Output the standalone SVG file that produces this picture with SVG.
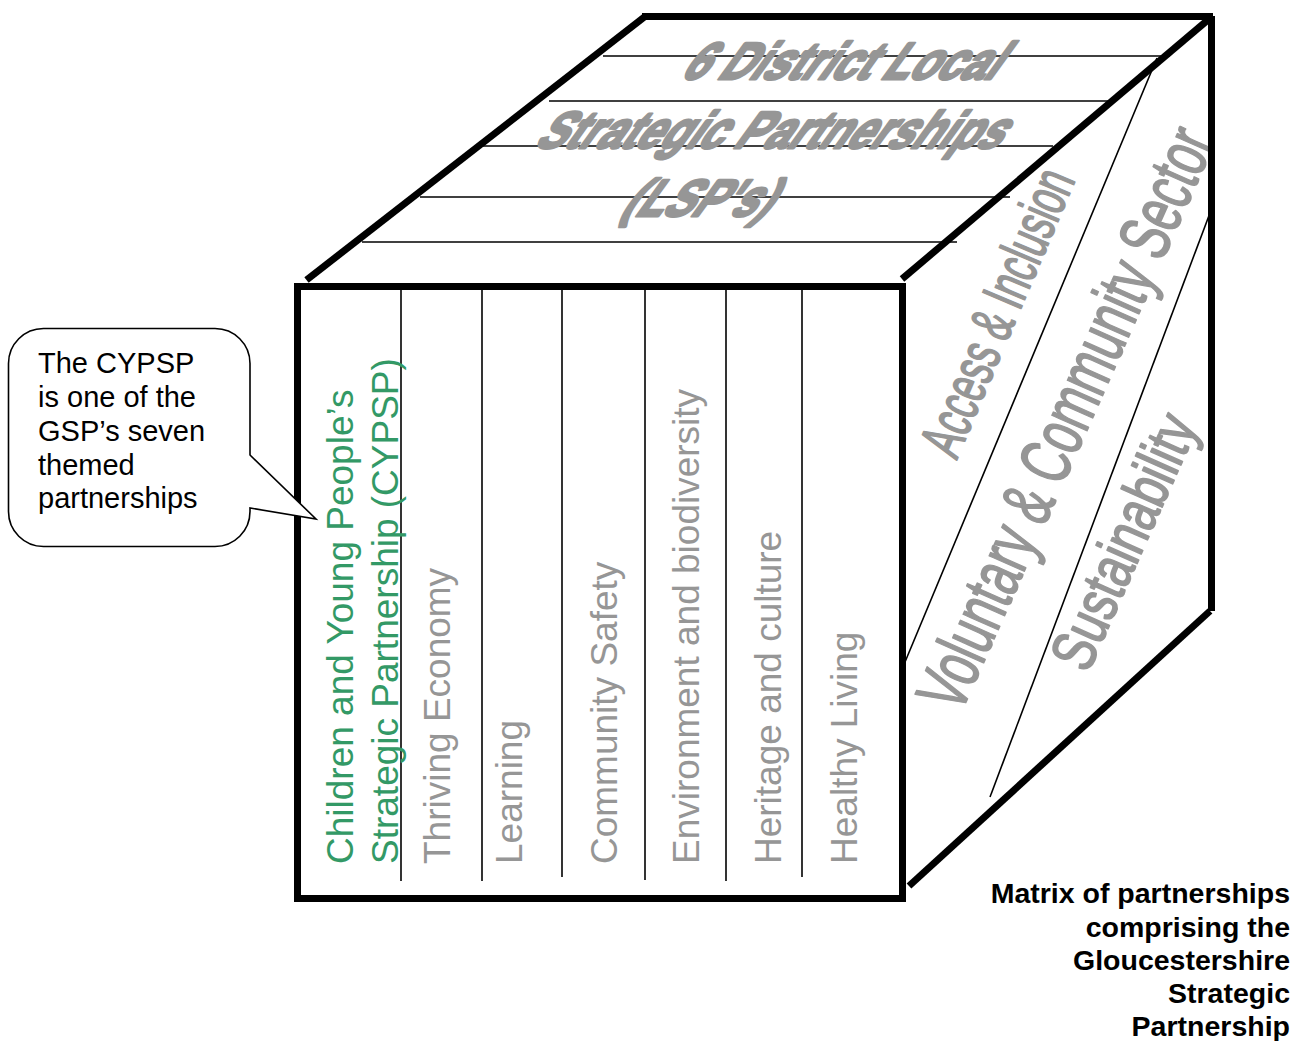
<svg xmlns="http://www.w3.org/2000/svg" width="1304" height="1041" viewBox="0 0 1304 1041">
  <style>
    .thick { stroke: #000; stroke-width: 7; fill: none; stroke-linecap: butt; }
    .thin { stroke: #000; stroke-width: 1.6; fill: none; }
    .col { font-family: "Liberation Sans", Arial, sans-serif; font-size: 37px; fill: #969696; }
    .green { fill: #339966; }
    .wa { font-family: "Liberation Sans", Arial, sans-serif; font-weight: bold; font-size: 52px; fill: #969696; stroke: #969696; stroke-width: 3; stroke-linejoin: round; }
    .side { font-family: "Liberation Sans", Arial, sans-serif; fill: #969696; stroke: #969696; stroke-width: 1.8; stroke-linejoin: round; }
    .callout { font-family: "Liberation Sans", Arial, sans-serif; font-size: 29px; fill: #000; }
    .caption { font-family: "Liberation Sans", Arial, sans-serif; font-size: 28.5px; font-weight: bold; fill: #000; text-anchor: end; }
  </style>
  <rect width="1304" height="1041" fill="#fff"/>

  <!-- Top face -->
  <g id="top-face">
    <g class="thin">
      <line x1="603" y1="56" x2="1170" y2="56"/>
      <line x1="549" y1="101" x2="1110" y2="101"/>
      <line x1="483" y1="146" x2="1053" y2="146"/>
      <line x1="420" y1="197" x2="1010" y2="197"/>
      <line x1="362" y1="242" x2="957" y2="242"/>
    </g>
    <text class="wa" transform="translate(679,79) skewX(-36)" textLength="315" lengthAdjust="spacingAndGlyphs">6 District Local</text>
    <text class="wa" transform="translate(533,148) skewX(-36)" textLength="465" lengthAdjust="spacingAndGlyphs">Strategic Partnerships</text>
    <text class="wa" transform="translate(619,216) skewX(-36)" textLength="148" lengthAdjust="spacingAndGlyphs">(LSP's)</text>
  </g>

  <!-- Right face -->
  <g id="right-face">
    <g class="thin">
      <line x1="1157" y1="58" x2="905" y2="662"/>
      <line x1="1210" y1="213" x2="990" y2="797"/>
    </g>
    <text class="side" font-size="60" text-anchor="middle" transform="translate(1016,320) rotate(-67)" textLength="305" lengthAdjust="spacingAndGlyphs">Access &amp; Inclusion</text>
    <text class="side" font-size="72" text-anchor="middle" transform="translate(1088,428) rotate(-66)" textLength="628" lengthAdjust="spacingAndGlyphs">Voluntary &amp; Community Sector</text>
    <text class="side" font-size="62" text-anchor="middle" transform="translate(1143,550) rotate(-66)" textLength="272" lengthAdjust="spacingAndGlyphs">Sustainability</text>
  </g>

  <!-- Front face -->
  <g id="front-face">
    <g class="thin">
      <line x1="401" y1="288" x2="401" y2="881"/>
      <line x1="482" y1="288" x2="482" y2="881"/>
      <line x1="562" y1="284" x2="562" y2="877"/>
      <line x1="645" y1="284" x2="645" y2="880"/>
      <line x1="726" y1="288" x2="726" y2="881"/>
      <line x1="802" y1="284" x2="802" y2="877"/>
    </g>
    <g id="cypsp">
      <text class="col green" transform="translate(353,864) rotate(-90)">Children and Young People’s</text>
      <text class="col green" transform="translate(397.5,864) rotate(-90)">Strategic Partnership (CYPSP)</text>
    </g>
    <text id="thriving" class="col" transform="translate(449.5,864) rotate(-90)">Thriving Economy</text>
    <text id="learning" class="col" transform="translate(521.5,864) rotate(-90)">Learning</text>
    <text id="safety" class="col" transform="translate(617,864) rotate(-90)">Community Safety</text>
    <text id="environment" class="col" transform="translate(699,864) rotate(-90)">Environment and biodiversity</text>
    <text id="heritage" class="col" transform="translate(781,864) rotate(-90)">Heritage and culture</text>
    <text id="healthy" class="col" transform="translate(857,864) rotate(-90)">Healthy Living</text>
  </g>

  <!-- Cube outline -->
  <g id="cube-edges">
    <rect class="thick" x="297.5" y="286.5" width="605" height="612"/>
    <line class="thick" x1="306.5" y1="280" x2="645" y2="16.5"/>
    <line class="thick" x1="642" y1="16.5" x2="1213" y2="16.5"/>
    <line class="thick" x1="1209" y1="19" x2="902" y2="279"/>
    <line class="thick" x1="1211.5" y1="16" x2="1211.5" y2="611"/>
    <line class="thick" x1="1210" y1="611" x2="909" y2="886"/>
  </g>

  <!-- Callout -->
  <g id="callout">
    <path d="M 43.5,328.5 H 215 A 35 35 0 0 1 250,363.5 V 455 L 316,519 L 250,508 V 511.5 A 35 35 0 0 1 215,546.5 H 43.5 A 35 35 0 0 1 8.5,511.5 V 363.5 A 35 35 0 0 1 43.5,328.5 Z" fill="#fff" stroke="#000" stroke-width="1.6"/>
    <text class="callout" x="38" y="373">The CYPSP</text>
    <text class="callout" x="38" y="407">is one of the</text>
    <text class="callout" x="38" y="441">GSP’s seven</text>
    <text class="callout" x="38" y="475">themed</text>
    <text class="callout" x="38" y="508">partnerships</text>
  </g>

  <!-- Caption -->
  <g id="caption">
    <text class="caption" x="1290" y="903">Matrix of partnerships</text>
    <text class="caption" x="1290" y="937">comprising the</text>
    <text class="caption" x="1290" y="970">Gloucestershire</text>
    <text class="caption" x="1290" y="1003">Strategic</text>
    <text class="caption" x="1290" y="1036">Partnership</text>
  </g>
</svg>
